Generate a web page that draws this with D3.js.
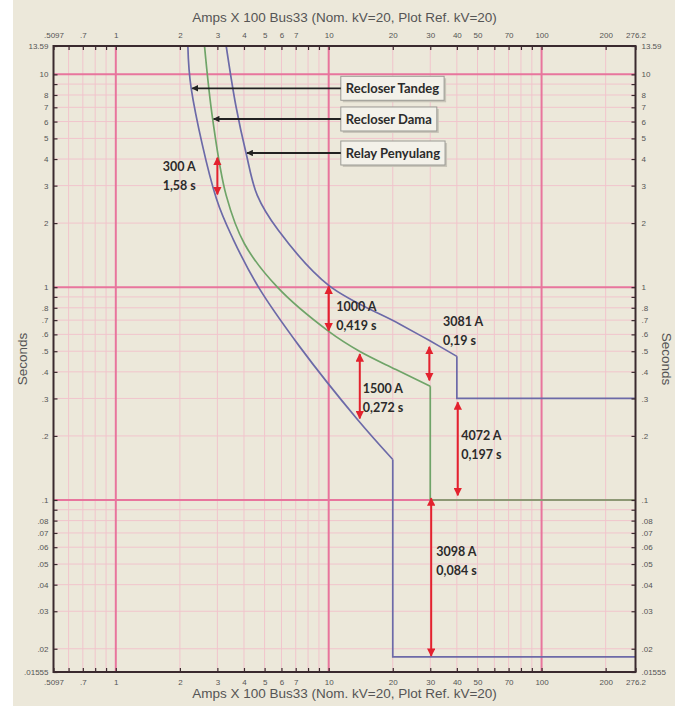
<!DOCTYPE html>
<html>
<head>
<meta charset="utf-8">
<script src="https://cdn.jsdelivr.net/npm/d3@7"></script>
<style>
  body { margin: 0; background: #fff; }
  svg { display: block; }
  .axis text { font-family: "Liberation Sans", Arial, sans-serif; font-size: 8px; fill: #555; }
  .axis path { display: none; }
  .axis line { stroke: #3a2a2e; stroke-width: 1.2; }
</style>
</head>
<body>
<svg id="chart"></svg>
<script>
// Axis ticks
const xTicks = [0.5097, 0.6, 0.7, 0.8, 0.9, 1, 2, 3, 4, 5, 6, 7, 8, 9, 10, 20, 30, 40, 50, 60, 70, 80, 90, 100, 200, 276.2];
const xLabelled = [0.5097, 0.7, 1, 2, 3, 4, 5, 6, 7, 10, 20, 30, 40, 50, 70, 100, 200, 276.2];
const yTicks = [0.01555, 0.02, 0.03, 0.04, 0.05, 0.06, 0.07, 0.08, 0.09, 0.1, 0.2, 0.3, 0.4, 0.5, 0.6, 0.7, 0.8, 0.9, 1, 2, 3, 4, 5, 6, 7, 8, 9, 10, 13.59];
const yLabelled = [0.01555, 0.02, 0.03, 0.04, 0.05, 0.06, 0.07, 0.08, 0.1, 0.2, 0.3, 0.4, 0.5, 0.6, 0.7, 0.8, 1, 2, 3, 4, 5, 6, 7, 8, 10, 13.59];
const xMajor = [1, 10, 100];
const yMajor = [0.1, 1, 10];

// Curves (amps x100, seconds)
const tandegCurve = [[2.18, 13.59], [2.26, 8.6], [2.97, 2.6], [3.57, 1.67], [4.68, 1.0], [7.29, 0.527], [13.65, 0.239], [20, 0.155]];
const tandegStep = [[20, 0.155], [20, 0.0183], [276.2, 0.0183]];
const damaCurve = [[2.61, 13.59], [2.85, 6.17], [3.3, 2.7], [4.02, 1.6], [5.74, 1.0], [10, 0.62], [13.95, 0.5], [20.7, 0.41], [30, 0.342]];
const damaStep = [[30, 0.342], [30, 0.1], [276.2, 0.1]];
const penyulangCurve = [[3.3, 13.59], [3.67, 7.06], [4.09, 4.27], [4.62, 2.7], [5.8, 1.85], [10, 1.02], [21.5, 0.672], [29.75, 0.561], [40, 0.473]];
const penyulangStep = [[40, 0.473], [40, 0.3], [276.2, 0.3]];

// Curve name labels
const curveNames = ["Recloser Tandeg", "Recloser Dama", "Relay Penyulang"];
const nameTipAmps = [2.26, 2.85, 4.09];
const nameTipSec = [8.6, 6.17, 4.27];
const nameBoxAmps = 11.4;

// Red interval annotations
const noteAmps = [3, 10, 14, 29.7, 40.4, 30.3];
const noteTop = [4.1, 1.02, 0.49, 0.53, 0.291, 0.103];
const noteBottom = [2.7, 0.618, 0.239, 0.361, 0.104, 0.0183];
const noteCurrent = ["300 A", "1000 A", "1500 A", "3081 A", "4072 A", "3098 A"];
const noteTime = ["1,58 s", "0,419 s", "0,272 s", "0,19 s", "0,197 s", "0,084 s"];
const noteTextAmps = [1.66, 10.84, 14.45, 34.4, 41.9, 32.0];
const noteTextSec = [3.5, 0.77, 0.318, 0.655, 0.192, 0.0545];

const axisTitle = "Amps X 100 Bus33 (Nom. kV=20, Plot Ref. kV=20)";

const width = 683, height = 706;
const pL = 53.5, pR = 635.5, pT = 46, pB = 672;

const svg = d3.select("#chart").attr("width", width).attr("height", height);

// beige panel
svg.append("rect").attr("x", 13).attr("y", 0).attr("width", 662).attr("height", height).attr("fill", "#ece8da");

const x = d3.scaleLog().domain([0.5097, 276.2]).range([pL, pR]);
const y = d3.scaleLog().domain([0.01555, 13.59]).range([pB, pT]);

const fmt = d => d < 1 ? String(d).replace(/^0/, "") : String(d);

const defs = svg.append("defs");
defs.append("clipPath").attr("id", "plot")
    .append("rect").attr("x", pL).attr("y", pT).attr("width", pR - pL).attr("height", pB - pT);

const grid = svg.append("g");
// minor grid
grid.selectAll(".vminor").data(xTicks.filter(d => !xMajor.includes(d) && d > 0.52 && d < 276))
    .enter().append("line")
    .attr("x1", d => x(d)).attr("x2", d => x(d)).attr("y1", pT).attr("y2", pB)
    .attr("stroke", "#f1c4cc").attr("stroke-width", 1);
grid.selectAll(".hminor").data(yTicks.filter(d => !yMajor.includes(d) && d > 0.016 && d < 13))
    .enter().append("line")
    .attr("y1", d => y(d)).attr("y2", d => y(d)).attr("x1", pL).attr("x2", pR)
    .attr("stroke", "#f1c4cc").attr("stroke-width", 1);
// major grid
grid.selectAll(".vmajor").data(xMajor).enter().append("line")
    .attr("x1", d => x(d)).attr("x2", d => x(d)).attr("y1", pT).attr("y2", pB)
    .attr("stroke", "#e8759d").attr("stroke-width", 2);
grid.selectAll(".hmajor").data(yMajor).enter().append("line")
    .attr("y1", d => y(d)).attr("y2", d => y(d)).attr("x1", pL).attr("x2", pR)
    .attr("stroke", "#e8759d").attr("stroke-width", 2);

// curves
const curveLine = d3.line().x(d => x(d[0])).y(d => y(d[1])).curve(d3.curveCatmullRom.alpha(0.5));
const stepLine = d3.line().x(d => x(d[0])).y(d => y(d[1]));
const series = [
    { curve: tandegCurve, step: tandegStep, color: "#6c6aa8" },
    { curve: damaCurve, step: damaStep, color: "#6fa468" },
    { curve: penyulangCurve, step: penyulangStep, color: "#6c6aa8" }
];
const curves = svg.append("g").attr("clip-path", "url(#plot)");
series.forEach(s => {
    curves.append("path").attr("d", curveLine(s.curve))
        .attr("fill", "none").attr("stroke", s.color).attr("stroke-width", 1.7);
    curves.append("path").attr("d", stepLine(s.step))
        .attr("fill", "none").attr("stroke", s.color).attr("stroke-width", 1.7);
});

// axes
svg.append("g").attr("class", "axis").attr("transform", `translate(0,${pT})`)
    .call(d3.axisTop(x).tickValues(xTicks).tickFormat(d => xLabelled.includes(d) ? fmt(d) : "").tickSize(-4).tickPadding(8));
svg.append("g").attr("class", "axis").attr("transform", `translate(0,${pB})`)
    .call(d3.axisBottom(x).tickValues(xTicks).tickFormat(d => xLabelled.includes(d) ? fmt(d) : "").tickSize(-4).tickPadding(7));
svg.append("g").attr("class", "axis").attr("transform", `translate(${pL},0)`)
    .call(d3.axisLeft(y).tickValues(yTicks).tickFormat(d => yLabelled.includes(d) ? fmt(d) : "").tickSize(-4).tickPadding(5));
svg.append("g").attr("class", "axis").attr("transform", `translate(${pR},0)`)
    .call(d3.axisRight(y).tickValues(yTicks).tickFormat(d => yLabelled.includes(d) ? fmt(d) : "").tickSize(-4).tickPadding(6));

// frame
svg.append("rect").attr("x", pL).attr("y", pT).attr("width", pR - pL).attr("height", pB - pT)
    .attr("fill", "none").attr("stroke", "#3a2a2e").attr("stroke-width", 2);

// axis titles
const titleFont = "'Liberation Sans', Arial, sans-serif";
[22, 698].forEach(ty => {
    svg.append("text").attr("x", (pL + pR) / 2).attr("y", ty).attr("text-anchor", "middle")
        .attr("font-family", titleFont).attr("font-size", 13.5).attr("fill", "#555").text(axisTitle);
});
svg.append("text").attr("transform", `translate(27,${(pT + pB) / 2}) rotate(-90)`)
    .attr("text-anchor", "middle").attr("font-family", titleFont).attr("font-size", 13.5).attr("fill", "#555").text("Seconds");
svg.append("text").attr("transform", `translate(662,${(pT + pB) / 2}) rotate(90)`)
    .attr("text-anchor", "middle").attr("font-family", titleFont).attr("font-size", 13.5).attr("fill", "#555").text("Seconds");

// markers
defs.append("marker").attr("id", "redHead").attr("viewBox", "0 0 10 10").attr("refX", 9).attr("refY", 5)
    .attr("markerWidth", 4.2).attr("markerHeight", 4.2).attr("orient", "auto-start-reverse").attr("markerUnits", "strokeWidth")
    .append("path").attr("d", "M0,0 L10,5 L0,10 Z").attr("fill", "#e3222e");
defs.append("marker").attr("id", "blackHead").attr("viewBox", "0 0 10 10").attr("refX", 9).attr("refY", 5)
    .attr("markerWidth", 4.5).attr("markerHeight", 3.6).attr("orient", "auto-start-reverse").attr("markerUnits", "strokeWidth")
    .append("path").attr("d", "M0,0 L10,5 L0,10 Z").attr("fill", "#222");

// red interval arrows and notes
const noteFont = "Lato, 'Open Sans', sans-serif";
noteAmps.forEach((a, i) => {
    svg.append("line").attr("x1", x(a)).attr("x2", x(a)).attr("y1", y(noteTop[i]) + 1).attr("y2", y(noteBottom[i]) - 1)
        .attr("stroke", "#e3222e").attr("stroke-width", 2)
        .attr("marker-start", "url(#redHead)").attr("marker-end", "url(#redHead)");
    const t = svg.append("text").attr("x", x(noteTextAmps[i])).attr("y", y(noteTextSec[i]))
        .attr("font-family", noteFont).attr("font-weight", 700).attr("font-size", 12.5).attr("fill", "#2b2b2b");
    t.append("tspan").text(noteCurrent[i]);
    t.append("tspan").attr("x", x(noteTextAmps[i])).attr("dy", 19).text(noteTime[i]);
});

// curve name boxes
curveNames.forEach((name, i) => {
    const cy = y(nameTipSec[i]);
    const bx = x(nameBoxAmps);
    const g = svg.append("g");
    const txt = g.append("text").attr("x", bx + 5).attr("y", cy + 5)
        .attr("font-family", noteFont).attr("font-weight", 700).attr("font-size", 13).attr("fill", "#2b2b2b").text(name);
    const w = txt.node().getComputedTextLength() + 10;
    g.insert("rect", "text").attr("x", bx + 2).attr("y", cy - 10).attr("width", w).attr("height", 24)
        .attr("fill", "#c9c5b9");
    g.insert("rect", "text").attr("x", bx).attr("y", cy - 12).attr("width", w).attr("height", 24)
        .attr("fill", "#f3f1e9").attr("stroke", "#9a9a94").attr("stroke-width", 1);
    svg.append("line").attr("x1", bx).attr("x2", x(nameTipAmps[i]) + 1).attr("y1", cy).attr("y2", cy)
        .attr("stroke", "#222").attr("stroke-width", 1.8).attr("marker-end", "url(#blackHead)");
});
</script>
</body>
</html>
